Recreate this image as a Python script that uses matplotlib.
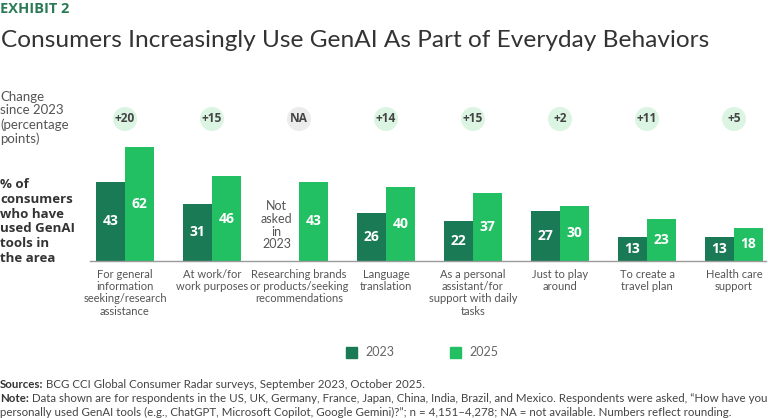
import matplotlib
matplotlib.use("Agg")
import matplotlib.pyplot as plt
from matplotlib import font_manager
import numpy as np

categories = [
    "For general\ninformation\nseeking/research\nassistance",
    "At work/for\nwork purposes",
    "Researching brands\nor products/seeking\nrecommendations",
    "Language\ntranslation",
    "As a personal\nassistant/for\nsupport with daily\ntasks",
    "Just to play\naround",
    "To create a\ntravel plan",
    "Health care\nsupport",
]
values_2023 = [43, 31, None, 26, 22, 27, 13, 13]
values_2025 = [62, 46, 43, 40, 37, 30, 23, 18]
changes = ["+20", "+15", "NA", "+14", "+15", "+2", "+11", "+5"]
series_names = ["2023", "2025"]

avail = {f.name for f in font_manager.fontManager.ttflist}
def pick(*names):
    for n in names:
        if n in avail:
            return n
    return "DejaVu Sans"

NARROW = pick("Lato", "Roboto", "Open Sans")
BOLDF = pick("Open Sans", "Noto Sans")
TITLEF = pick("Lato", "Open Sans", "Noto Sans")
plt.rcParams["font.family"] = [NARROW, "DejaVu Sans"]

DARK = "#1a7a55"
LIGHT = "#22c063"
GRAY = "#555555"

W, H = 768, 418
fig = plt.figure(figsize=(W / 100, H / 100), dpi=100)
renderer = fig.canvas.get_renderer()

def fx(px):
    return px / W
def fy(py):
    return 1 - py / H

ax_left, ax_right = 90, 766
base_y, top_y = 261, 100
ax = fig.add_axes([fx(ax_left), fy(base_y), (ax_right - ax_left) / W, (base_y - top_y) / H])
ppu = 1.839
ax.set_ylim(0, (base_y - top_y) / ppu)
gap = 87.0
x0 = 125.0
ax.set_xlim((ax_left - x0) / gap, (ax_right - x0) / gap)

x = np.arange(len(categories))
bw = 29 / gap
v23 = [v if v is not None else 0 for v in values_2023]
ax.bar(x - bw / 2, v23, width=bw, color=DARK, label=series_names[0], zorder=2)
ax.bar(x + bw / 2, values_2025, width=bw, color=LIGHT, label=series_names[1], zorder=2)

for i, v in enumerate(values_2023):
    if v is not None:
        ax.text(x[i] - bw / 2, v / 2, str(v), ha="center", va="center", color="white",
                fontsize=10, fontweight="bold", family=[BOLDF, "DejaVu Sans"])
    else:
        ax.text(x[i] - bw / 2 - 0.09, 19.5, "Not\nasked\nin\n2023", ha="center", va="center",
                color=GRAY, fontsize=9, linespacing=1.08)
for i, v in enumerate(values_2025):
    ax.text(x[i] + bw / 2, v / 2, str(v), ha="center", va="center", color="white",
            fontsize=10, fontweight="bold", family=[BOLDF, "DejaVu Sans"])

cy = (base_y - 119) / ppu
for i, c in enumerate(changes):
    fc = "#ececec" if c == "NA" else "#dcf5e3"
    ax.scatter([x[i]], [cy], s=300, color=fc, edgecolors="none", zorder=1, clip_on=False)
    ax.text(x[i], cy, c, ha="center", va="center", fontsize=8.6, fontweight="bold",
            color="#444444", family=[BOLDF, "DejaVu Sans"])

for s in ["top", "right", "left"]:
    ax.spines[s].set_visible(False)
ax.spines["bottom"].set_color("#9a9a9a")
ax.spines["bottom"].set_linewidth(1.0)
ax.set_yticks([])
ax.set_xticks(x)

# fit tick label size so the widest line is about 95 px
probe = fig.text(0, 0, "Researching brands", fontsize=10)
wpx = probe.get_window_extent(renderer).width
probe.remove()
tick_fs = min(9.0, 10 * 95 / wpx)
ax.set_xticklabels(categories, fontsize=tick_fs, color=GRAY, linespacing=1.12)
ax.tick_params(axis="x", length=0, pad=6)

fig.text(fx(0), fy(2), "EXHIBIT 2", ha="left", va="top", fontsize=10.5, fontweight="bold",
         color="#2a7a56", family=[BOLDF, "DejaVu Sans"])
title = fig.text(fx(1), fy(47), "Consumers Increasingly Use GenAI As Part of Everyday Behaviors",
                 ha="left", va="baseline", fontsize=18.2, fontweight="normal", color="#333333",
                 family=[TITLEF, "DejaVu Sans"])
tw = title.get_window_extent(renderer).width
title.set_fontsize(18.2 * 706 / tw)

fig.text(fx(0), fy(91), "Change\nsince 2023\n(percentage\npoints)", ha="left", va="top",
         fontsize=9.5, color=GRAY, linespacing=1.15)
fig.text(fx(0), fy(178), "% of\nconsumers\nwho have\nused GenAI\ntools in\nthe area", ha="left", va="top",
         fontsize=9.5, fontweight="bold", color="#333333", linespacing=1.18,
         family=[BOLDF, "DejaVu Sans"])

fig.patches.append(plt.Rectangle((fx(346), fy(358)), 11 / W, 11 / H, transform=fig.transFigure,
                                 color=DARK, figure=fig))
fig.text(fx(365), fy(352.5), series_names[0], ha="left", va="center", fontsize=9, color="#666666")
fig.patches.append(plt.Rectangle((fx(450), fy(358)), 11 / W, 11 / H, transform=fig.transFigure,
                                 color=LIGHT, figure=fig))
fig.text(fx(469), fy(352.5), series_names[1], ha="left", va="center", fontsize=9, color="#666666")

def lead_line(ypx, bold, rest, size=8.3):
    t = fig.text(fx(0), fy(ypx), bold, ha="left", va="center", fontsize=size,
                 fontweight="bold", color="#333333")
    bb = t.get_window_extent(renderer)
    fig.text(bb.x1 / W + 3 / W, fy(ypx), rest, ha="left", va="center", fontsize=size, color="#444444")

lead_line(384, "Sources:", "BCG CCI Global Consumer Radar surveys, September 2023, October 2025.")
lead_line(398, "Note:", "Data shown are for respondents in the US, UK, Germany, France, Japan, China, India, Brazil, and Mexico. Respondents were asked, \u201cHow have you")
fig.text(fx(0), fy(412), "personally used GenAI tools (e.g., ChatGPT, Microsoft Copilot, Google Gemini)?\u201d; n = 4,151\u20134,278; NA = not available. Numbers reflect rounding.",
         ha="left", va="center", fontsize=8.3, color="#444444")

fig.savefig("out.png", dpi=100)
